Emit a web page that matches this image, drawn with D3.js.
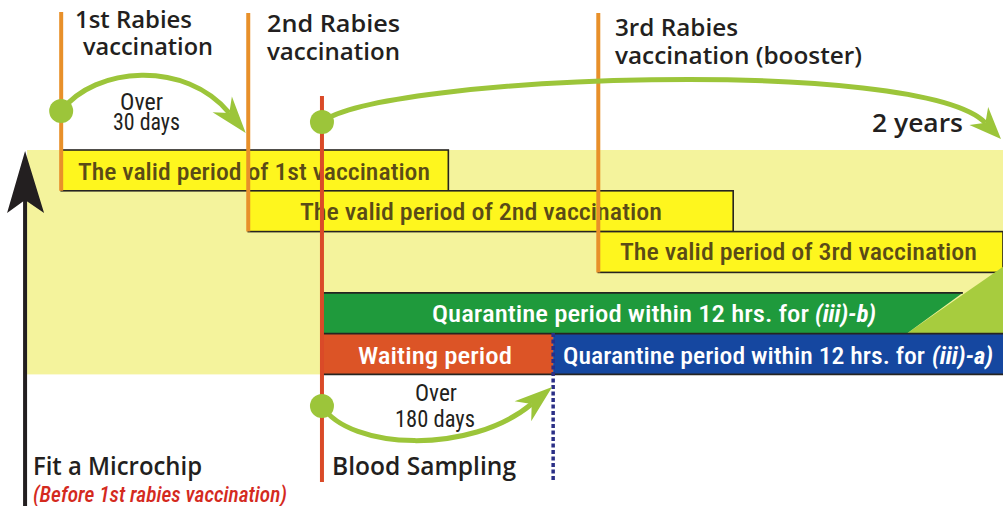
<!DOCTYPE html>
<html>
<head>
<meta charset="utf-8">
<script src="https://cdn.jsdelivr.net/npm/d3@7/dist/d3.min.js"></script>
<style>
  html, body { margin: 0; padding: 0; background: #ffffff; }
  svg { display: block; }
</style>
</head>
<body>
<svg id="chart" width="1003" height="506"></svg>
<script>
// ---------------- DATA ----------------
// Timeline positions (abstract units 0..100 across the chart)
const eventNames = ["Fit a Microchip", "1st Rabies vaccination", "2nd Rabies vaccination",
                    "Blood Sampling", "End of waiting period", "3rd Rabies vaccination (booster)"];
const eventTimes = [2.5, 6.1, 24.75, 32.1, 55.15, 59.65];
const eventKinds = ["microchip", "vaccination", "vaccination", "sampling", "waiting-end", "vaccination"];

// Heading labels for the vaccination events
const headingLine1 = ["1st Rabies", "2nd  Rabies", "3rd Rabies"];
const headingLine2 = ["vaccination", "vaccination", "vaccination (booster)"];

// Period bars
const periodLabels = ["The valid period of 1st vaccination",
                      "The valid period of 2nd vaccination",
                      "The valid period of 3rd vaccination",
                      "Quarantine period within 12 hrs.  for ",
                      "Waiting period",
                      "Quarantine period within 12 hrs. for "];
const periodItalic = ["", "", "", "(iii)-b)", "", "(iii)-a)"];
const periodStart  = [6.1, 24.75, 59.65, 32.1, 32.1, 55.15];
const periodEnd    = [44.7, 73.1, 100, 96.0, 55.15, 100];
const periodRow    = [0, 1, 2, 3.5, 4.5, 4.5];
const periodKind   = ["valid", "valid", "valid", "quarantineB", "waiting", "quarantineA"];

// Interval arrows
const intervalLine1 = ["Over", "", "Over"];
const intervalLine2 = ["30 days", "2 years", "180 days"];
const intervalFrom  = [6.1, 32.1, 32.1];
const intervalTo    = [24.5, 99.8, 55.05];

// ---------------- LAYOUT ----------------
const W = 1003, H = 506;
const svg = d3.select("#chart");
const x = d3.scaleLinear().domain([0, 100]).range([0, W]);
const rowH = 40.8;
const y = d3.scaleLinear().domain([0, 5.5]).range([150, 150 + 5.5 * rowH]);

const C = {
  band: "#f4f39c",
  valid: "#fef61e",
  validText: "#5a4b17",
  green: "#1f9a3c",
  lightGreen: "#a7cc3e",
  waiting: "#dc5426",
  blue: "#1547a0",
  orange: "#e8902a",
  red: "#da4a28",
  arrow: "#9cc53a",
  navy: "#2b2f86",
  ink: "#231f20",
  outline: "#262420",
  italicRed: "#d42a1e"
};

const condensed = "'Liberation Sans Narrow', 'Roboto Condensed', 'Roboto', sans-serif";
const semibold = "'Open Sans', 'Noto Sans', sans-serif";

function addText(g, str, px, py, width, opts) {
  opts = opts || {};
  const t = g.append("text")
    .attr("x", px).attr("y", py)
    .attr("font-family", opts.family || condensed)
    .attr("font-size", opts.size || 22)
    .attr("font-weight", opts.weight || "normal")
    .attr("font-style", opts.style || "normal")
    .attr("fill", opts.fill || C.ink)
    .attr("text-anchor", opts.anchor || "start")
    .text(str);
  if (width) t.attr("textLength", width).attr("lengthAdjust", "spacingAndGlyphs");
  return t;
}

// ---- pale background band ----
const bandLeft = x(eventTimes[0]) + 2;
svg.append("rect")
  .attr("x", bandLeft).attr("y", y(0))
  .attr("width", W - bandLeft).attr("height", y(5.5) - y(0))
  .attr("fill", C.band);

// ---- period bars ----
const bars = svg.append("g");
periodLabels.forEach((lab, i) => {
  const x0 = x(periodStart[i]), x1 = x(periodEnd[i]);
  const y0 = y(periodRow[i]), y1 = y(periodRow[i] + 1);
  const kind = periodKind[i];
  if (kind === "valid") {
    bars.append("rect").attr("x", x0).attr("y", y0)
      .attr("width", x1 - x0).attr("height", y1 - y0)
      .attr("fill", C.valid).attr("stroke", C.outline).attr("stroke-width", 1.6);
  } else if (kind === "quarantineB") {
    // light green pointer behind the right end
    const xb = x(periodEnd[i]) - 56;
    bars.append("path")
      .attr("d", `M${xb},${y1} L${W},${y0 - 26} L${W},${y1 + 10} Z`)
      .attr("fill", C.lightGreen);
    bars.append("path")
      .attr("d", `M${x0},${y0} L${x1},${y0} L${xb},${y1} L${x0},${y1} Z`)
      .attr("fill", C.green);
    bars.append("line").attr("x1", x0).attr("x2", x1).attr("y1", y0).attr("y2", y0)
      .attr("stroke", C.outline).attr("stroke-width", 1.8);
  } else {
    bars.append("rect").attr("x", x0).attr("y", y0)
      .attr("width", x1 - x0).attr("height", y1 - y0)
      .attr("fill", kind === "waiting" ? C.waiting : C.blue);
    bars.append("line").attr("x1", x0).attr("x2", x1).attr("y1", y0).attr("y2", y0)
      .attr("stroke", C.outline).attr("stroke-width", 1.8);
    bars.append("line").attr("x1", x0).attr("x2", x1).attr("y1", y1).attr("y2", y1)
      .attr("stroke", C.outline).attr("stroke-width", 1.8);
  }
});

// bar labels
const barText = svg.append("g");
const barTextSpec = [
  {start: 78,  width: 352, base: 180},
  {start: 300, width: 362, base: 220},
  {start: 620, width: 357, base: 260},
  {start: 432, width: 377, base: 322, iStart: 815, iWidth: 61},
  {start: 358, width: 154, base: 364},
  {start: 563, width: 362, base: 364, iStart: 932, iWidth: 61}
];
periodLabels.forEach((lab, i) => {
  const s = barTextSpec[i];
  const fill = periodKind[i] === "valid" ? C.validText : "#ffffff";
  addText(barText, lab.trim(), s.start, s.base, s.width, {size: 23, fill: fill, weight: 500});
  if (periodItalic[i]) {
    addText(barText, periodItalic[i], s.iStart, s.base, s.iWidth,
            {size: 23, fill: fill, style: "italic", weight: "bold"});
  }
});

// ---- vertical event lines ----
const lines = svg.append("g");
const lineTop = [150, 12, 13, 96, 333, 13];
const lineBottom = [506, y(1), y(2), 482, 482, y(3)];
eventTimes.forEach((t, i) => {
  const k = eventKinds[i];
  if (k === "microchip") return;
  const ln = lines.append("line")
    .attr("x1", x(t)).attr("x2", x(t))
    .attr("y1", lineTop[i]).attr("y2", lineBottom[i]);
  if (k === "vaccination") ln.attr("stroke", C.orange).attr("stroke-width", 4);
  else if (k === "sampling") ln.attr("stroke", C.red).attr("stroke-width", 4);
  else ln.attr("stroke", C.navy).attr("stroke-width", 3.5).attr("stroke-dasharray", "4,2.5");
});

// ---- black vertical axis arrow (microchip) ----
const ax = x(eventTimes[0]);
svg.append("line").attr("x1", ax).attr("x2", ax).attr("y1", 195).attr("y2", H)
  .attr("stroke", C.ink).attr("stroke-width", 4);
svg.append("path")
  .attr("d", `M${ax},151 L${ax + 19},213 L${ax},200 L${ax - 18},213 Z`)
  .attr("fill", C.ink);

// ---- interval arrows ----
const arcs = svg.append("g");
const arcSpec = [
  {y0: 111, y1: 133, c1: [34, -45], c2: [-60, -73], headL: 37, headW: 12.5},
  {y0: 122, y1: 139, c1: [58, -47], c2: [-80, -83], headL: 32, headW: 13},
  {y0: 406, y1: 387, c1: [28, 44],  c2: [-82, 68],  headL: 38, headW: 13}
];
intervalFrom.forEach((f, i) => {
  const s = arcSpec[i];
  const p0 = [x(f), s.y0], p3 = [x(intervalTo[i]), s.y1];
  const c1 = [p0[0] + s.c1[0], p0[1] + s.c1[1]];
  const c2 = [p3[0] + s.c2[0], p3[1] + s.c2[1]];
  const dx = p3[0] - c2[0], dy = p3[1] - c2[1];
  const len = Math.hypot(dx, dy), ux = dx / len, uy = dy / len;
  const nx = -uy, ny = ux;
  const notch = [p3[0] - ux * s.headL * 0.7, p3[1] - uy * s.headL * 0.7];
  const path = d3.path();
  path.moveTo(p0[0], p0[1]);
  path.bezierCurveTo(c1[0], c1[1], c2[0], c2[1], notch[0], notch[1]);
  arcs.append("path").attr("d", path.toString())
    .attr("fill", "none").attr("stroke", C.arrow).attr("stroke-width", 5);
  const bx = p3[0] - ux * s.headL, by = p3[1] - uy * s.headL;
  arcs.append("path")
    .attr("d", `M${p3[0]},${p3[1]} L${bx + nx * s.headW},${by + ny * s.headW} L${notch[0]},${notch[1]} L${bx - nx * s.headW},${by - ny * s.headW} Z`)
    .attr("fill", C.arrow);
  arcs.append("circle").attr("cx", p0[0]).attr("cy", p0[1]).attr("r", 12).attr("fill", C.arrow);
});

// interval labels
const il = svg.append("g");
addText(il, intervalLine1[0], 120, 110, 43, {size: 23});
addText(il, intervalLine2[0], 113, 130, 67, {size: 23});
addText(il, intervalLine2[1], 872, 132, 91, {size: 25, family: semibold, weight: 600});
addText(il, intervalLine1[2], 415, 401, 42, {size: 23});
addText(il, intervalLine2[2], 395, 427, 80, {size: 23});

// ---- headings ----
const hd = svg.append("g");
const headSpec = [
  {l1: [75, 28, 117], l2: [83, 55, 130]},
  {l1: [267, 32, 133], l2: [267, 60, 133]},
  {l1: [615, 36, 123], l2: [615, 64, 247]}
];
headingLine1.forEach((h, i) => {
  const s = headSpec[i];
  addText(hd, h, s.l1[0], s.l1[1], s.l1[2], {size: 23, family: semibold, weight: 600});
  addText(hd, headingLine2[i], s.l2[0], s.l2[1], s.l2[2], {size: 23, family: semibold, weight: 600});
});

// bottom labels
addText(hd, eventNames[0], 33, 475, 169, {size: 25, family: semibold, weight: 600});
addText(hd, "(Before 1st rabies vaccination)", 33, 502, 254,
        {size: 22, style: "italic", fill: C.italicRed, weight: 500});
addText(hd, eventNames[3], 332, 475, 184, {size: 25, family: semibold, weight: 600});
</script>
</body>
</html>
